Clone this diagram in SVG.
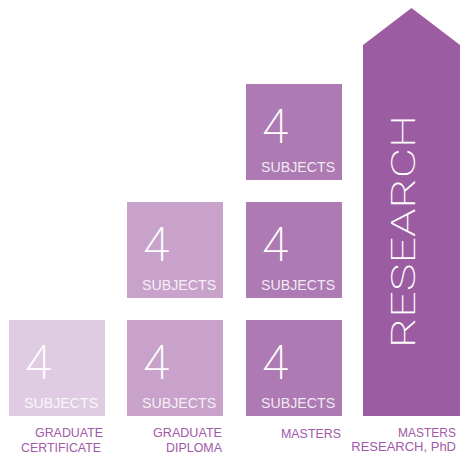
<svg xmlns="http://www.w3.org/2000/svg" width="462" height="456" viewBox="0 0 462 456">
  <style>
    .num { font-family: "Roboto", "Liberation Sans", sans-serif; font-weight: 200; font-size: 48px; fill: #ffffff; }
    .sub { font-family: "Liberation Sans", "DejaVu Sans", sans-serif; font-size: 14.2px; fill: #ffffff; fill-opacity: 0.85; }
    .lbl { font-family: "Liberation Sans", "DejaVu Sans", sans-serif; font-size: 13px; fill: #a159a8; }
    .big { font-family: "Roboto", "Liberation Sans", sans-serif; font-weight: 200; font-size: 32.5px; fill: #ffffff; }
    .c1 { fill: #dfcce2; }
    .c2 { fill: #c8a2cb; }
    .c3 { fill: #ad7ab3; }
    .c4 { fill: #9b5ca2; }
  </style>
  <rect width="462" height="456" fill="#ffffff"/>

  <g id="cert-1">
    <rect class="c1" x="9" y="320" width="96" height="96"/>
    <text class="num" x="25" y="379">4</text>
    <text class="sub" x="24" y="408">SUBJECTS</text>
  </g>

  <g id="dip-1">
    <rect class="c2" x="127" y="202" width="96" height="96"/>
    <text class="num" x="143" y="261">4</text>
    <text class="sub" x="142" y="290">SUBJECTS</text>
  </g>
  <g id="dip-2">
    <rect class="c2" x="127" y="320" width="96" height="96"/>
    <text class="num" x="143" y="379">4</text>
    <text class="sub" x="142" y="408">SUBJECTS</text>
  </g>

  <g id="masters-1">
    <rect class="c3" x="246" y="84" width="96" height="96"/>
    <text class="num" x="262" y="143">4</text>
    <text class="sub" x="261" y="172">SUBJECTS</text>
  </g>
  <g id="masters-2">
    <rect class="c3" x="246" y="202" width="96" height="96"/>
    <text class="num" x="262" y="261">4</text>
    <text class="sub" x="261" y="290">SUBJECTS</text>
  </g>
  <g id="masters-3">
    <rect class="c3" x="246" y="320" width="96" height="96"/>
    <text class="num" x="262" y="379">4</text>
    <text class="sub" x="261" y="408">SUBJECTS</text>
  </g>

  <g id="research">
    <polygon class="c4" points="363,45 411.5,8 460,45 460,416 363,416"/>
    <text class="big" transform="translate(415,348) rotate(-90)" x="0" y="0" textLength="233" lengthAdjust="spacingAndGlyphs">RESEARCH</text>
  </g>

  <g id="labels">
    <text class="lbl" text-anchor="end" x="103" y="437" textLength="68" lengthAdjust="spacingAndGlyphs">GRADUATE</text>
    <text class="lbl" text-anchor="end" x="101" y="452" textLength="80" lengthAdjust="spacingAndGlyphs">CERTIFICATE</text>
    <text class="lbl" text-anchor="end" x="222" y="437" textLength="69" lengthAdjust="spacingAndGlyphs">GRADUATE</text>
    <text class="lbl" text-anchor="end" x="222" y="452" textLength="56" lengthAdjust="spacingAndGlyphs">DIPLOMA</text>
    <text class="lbl" text-anchor="end" x="341" y="438" textLength="60" lengthAdjust="spacingAndGlyphs">MASTERS</text>
    <text class="lbl" text-anchor="end" x="456" y="437" textLength="58" lengthAdjust="spacingAndGlyphs">MASTERS</text>
    <text class="lbl" text-anchor="end" x="456" y="451" font-size="12">RESEARCH, PhD</text>
  </g>
</svg>
